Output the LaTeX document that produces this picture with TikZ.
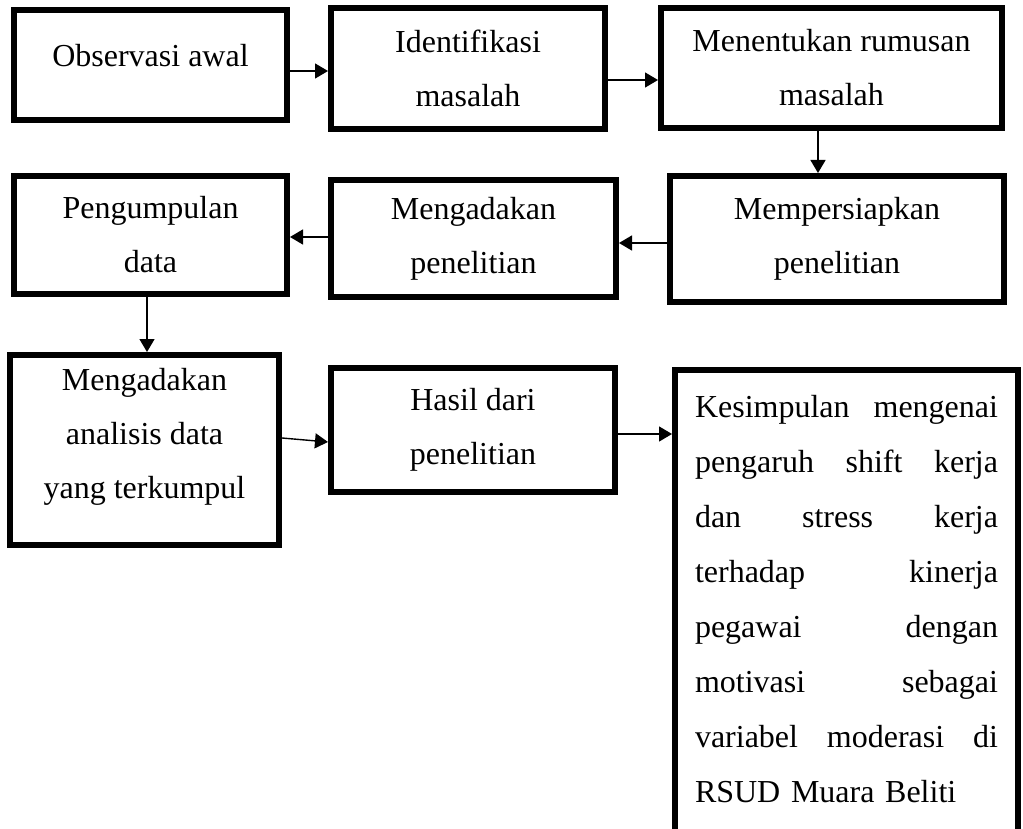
\documentclass[tikz,border=0pt]{standalone}
\usepackage{fontspec}
\setmainfont{Liberation Serif}
\usetikzlibrary{arrows.meta,calc}
\newcommand{\lowpad}[1]{\rule[-#1]{0pt}{0pt}}
\newcommand{\jline}[1]{{\spaceskip=0pt\xspaceskip=0pt\makebox[151.5pt][s]{#1}}}

\begin{document}
\begin{tikzpicture}[x=0.5pt,y=-0.5pt,
  font=\fontsize{16pt}{27pt}\selectfont,
  bx/.style={draw=black,line width=3pt,fill=white,align=center,inner sep=2pt},
  ar/.style={-{Triangle[length=6.5pt,width=7.5pt]},line width=0.7pt}]
\useasboundingbox (0,0) rectangle (1023,829);

% row 1
\node[bx,minimum width=136.5pt,minimum height=55pt] (obs) at (150.5,65) {Observasi awal\lowpad{10pt}};
\node[bx,minimum width=137pt,minimum height=60.5pt] (ident) at (468,68.5) {Identifikasi\\masalah};
\node[bx,minimum width=170.5pt,minimum height=60pt] (rumus) at (831.5,68) {Menentukan rumusan\\masalah};

% row 2
\node[bx,minimum width=167pt,minimum height=63pt] (siap) at (837,239) {Mempersiapkan\\penelitian};
\node[bx,minimum width=142.5pt,minimum height=58.5pt] (teliti) at (473.5,238.5) {Mengadakan\\penelitian};
\node[bx,minimum width=136.5pt,minimum height=59pt] (kumpul) at (150.5,235) {Pengumpulan\\data};

% row 3
\node[bx,minimum width=134.5pt,minimum height=95pt] (ana) at (144.5,450) {Mengadakan\\analisis data\\yang terkumpul\lowpad{16.5pt}};
\node[bx,minimum width=142pt,minimum height=62pt] (hasil) at (473,430) {Hasil dari\\penelitian};
\node[align=left,text width=151.5pt,minimum width=171.5pt,minimum height=229.5pt,inner sep=0pt,outer sep=0pt,
  font=\fontsize{16pt}{27.5pt}\selectfont] (simpul) at (846.5,599.5)
 {\jline{Kesimpulan mengenai}\\\jline{pengaruh shift kerja}\\\jline{dan stress kerja}\\\jline{terhadap kinerja}\\
  \jline{pegawai dengan}\\\jline{motivasi sebagai}\\\jline{variabel moderasi di}\\RSUD Muara Beliti};
\draw[line width=3pt] (simpul.south west) -- (simpul.north west) -- (simpul.north east) -- (simpul.south east);

% connectors
\draw[ar] ([yshift=-3pt]obs.east) -- ([yshift=-3pt]obs.east -| ident.west);
\draw[ar] ([yshift=-5.75pt]ident.east) -- ([yshift=-5.75pt]ident.east -| rumus.west);
\draw[ar] ([xshift=-6.75pt]rumus.south) -- ([xshift=-6.75pt]rumus.south |- siap.north);
\draw[ar] ([yshift=-2pt]siap.west) -- ([yshift=-2pt]siap.west -| teliti.east);
\draw[ar] ([yshift=0.75pt]teliti.west) -- ([yshift=0.75pt]teliti.west -| kumpul.east);
\draw[ar] ([xshift=-1.75pt]kumpul.south) -- ([xshift=-1.75pt]kumpul.south |- ana.north);
\draw[ar] ([yshift=6pt]ana.east) -- ([yshift=-6pt]hasil.west);
\draw[ar,shorten >=1.5pt] ([yshift=-2pt]hasil.east) -- ([yshift=-2pt]hasil.east -| simpul.west);
\end{tikzpicture}
\end{document}
